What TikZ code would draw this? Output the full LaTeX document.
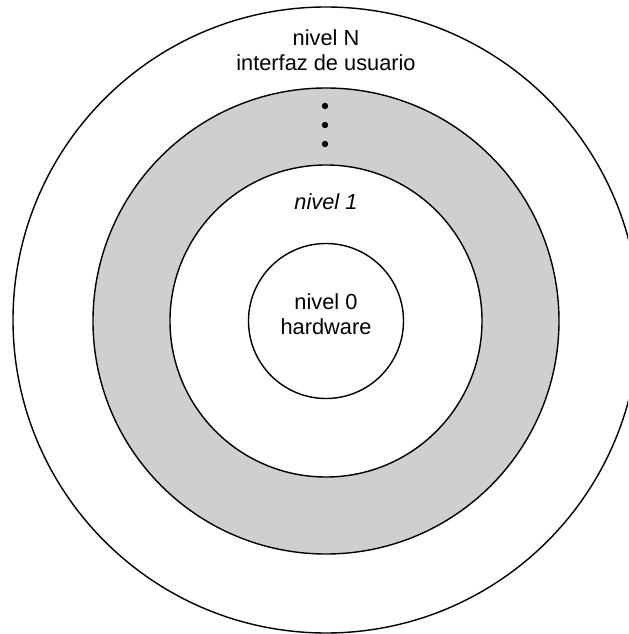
\documentclass[tikz,border=0pt]{standalone}
\usepackage{fontspec}
\setmainfont{Liberation Sans}
\usepackage{xcolor}
\usepackage{tikz}
\usetikzlibrary{positioning}

\begin{document}
\begin{tikzpicture}[scale=0.025,
    ring/.style={draw=black, line width=1pt},
    lbl/.style={font=\fontsize{15.5}{18}\selectfont, align=center}]
    \useasboundingbox (-326,-313) rectangle (302,321);
    \clip (-326,-313) rectangle (302,321);
    % shaded band between nivel 1 and nivel N
    \fill[gray!38, even odd rule] (0,0) circle (233) (0,0) circle (156);
    \draw[ring] (0,1) circle (313);
    \draw[ring] (0,0) circle (233);
    \draw[ring] (0,0) circle (156);
    \draw[ring] (0,0) circle (77.5);
    \foreach \dy in {215,196,177}{
      \fill[black] (-1,\dy) circle (3.2);
    }
    \node[lbl] (nivN) at (0,271) {nivel N\\interfaz de usuario};
    \node[lbl, font=\fontsize{15.5}{18}\selectfont\itshape] (niv1) at (0,119) {nivel 1};
    \node[lbl] (niv0) at (0,7) {nivel 0\\hardware};
\end{tikzpicture}
\end{document}
